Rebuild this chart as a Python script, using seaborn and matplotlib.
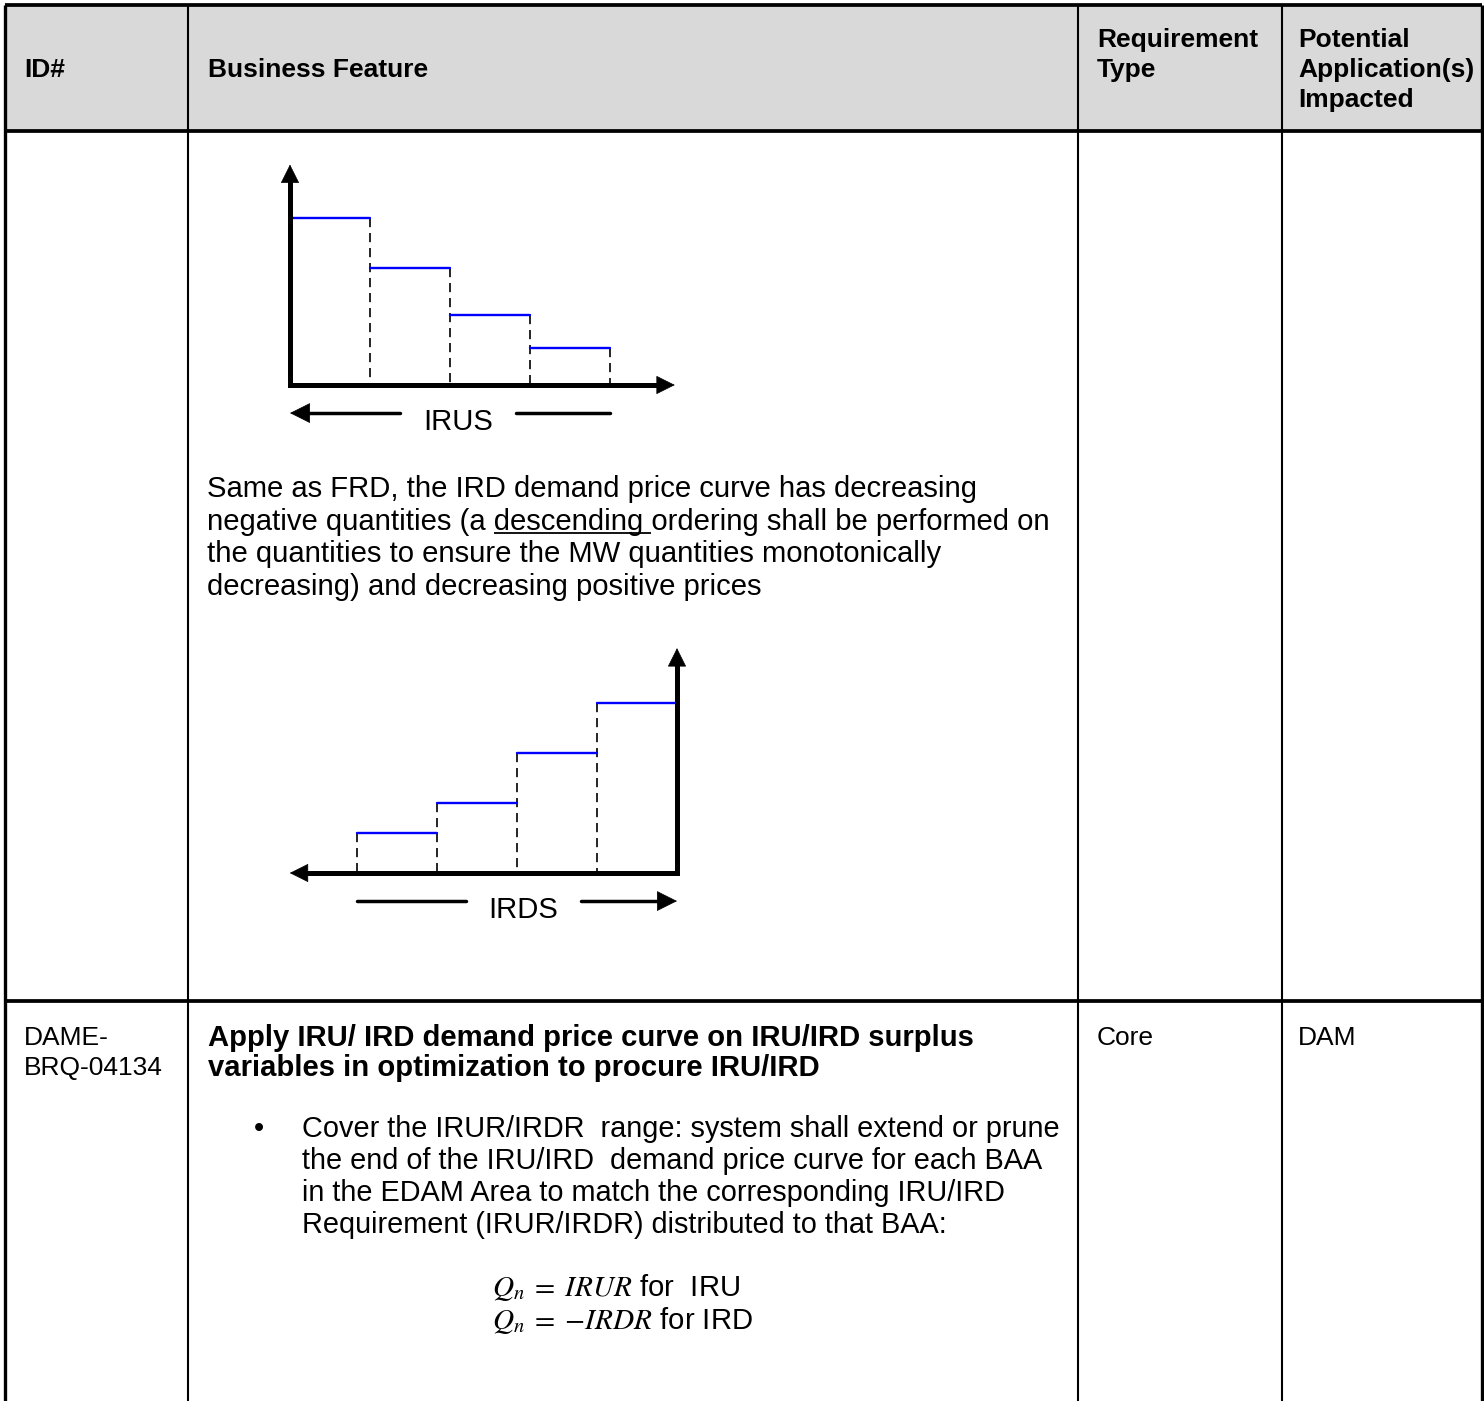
import matplotlib
matplotlib.use("Agg")
import matplotlib.pyplot as plt
from matplotlib.patches import Rectangle
import seaborn as sns
import pandas as pd

# IRU surplus demand curve (positive MW, decreasing price)
irus_qty = [0, 1, 2, 3, 4]
irus_price = [5.0, 3.5, 2.1, 1.1]
# IRD surplus demand curve (negative MW, increasing towards zero)
irds_qty = [-4, -3, -2, -1, 0]
irds_price = [1.2, 2.1, 3.6, 5.1]

# table text
header_id = ["ID#"]
header_feature = ["Business Feature"]
header_type = ["Requirement", "Type"]
header_apps = ["Potential", "Application(s)", "Impacted"]

para_lines = ["Same as FRD, the IRD demand price curve has decreasing",
              "negative quantities (a descending ordering shall be performed on",
              "the quantities to ensure the MW quantities monotonically",
              "decreasing) and decreasing positive prices"]

row2_id = ["DAME-", "BRQ-04134"]
row2_title = ["Apply IRU/ IRD demand price curve on IRU/IRD surplus",
              "variables in optimization to procure IRU/IRD"]
row2_bullet = ["Cover the IRUR/IRDR  range: system shall extend or prune",
               "the end of the IRU/IRD  demand price curve for each BAA",
               "in the EDAM Area to match the corresponding IRU/IRD",
               "Requirement (IRUR/IRDR) distributed to that BAA:"]
row2_formulas = [r"$Q_n\;=\;IRUR$ for  IRU", r"$Q_n\;=\;{-}IRDR$ for IRD"]
row2_type = "Core"
row2_apps = "DAM"

sns.set_theme(style="white")
plt.rcParams["font.family"] = ["Liberation Sans", "DejaVu Sans"]
plt.rcParams["mathtext.fontset"] = "stix"
plt.rcParams["text.color"] = "black"

W, H = 1484, 1401
FS_HEAD = 19.0   # header and narrow columns
FS_BODY = 21.1   # business feature column
fig = plt.figure(figsize=(W / 100, H / 100), dpi=100)
fig.patch.set_facecolor("white")

# background axes in pixel units for the table
ax = fig.add_axes([0, 0, 1, 1])
ax.set_xlim(0, W)
ax.set_ylim(H, 0)
ax.axis("off")

col_x = [5, 188, 1078, 1282, 1482]
head_bottom, row_sep = 131, 1001

ax.add_patch(Rectangle((col_x[0], 5), col_x[-1] - col_x[0], head_bottom - 5,
                       facecolor="#d9d9d9", edgecolor="none"))
for y in [5, head_bottom, row_sep]:
    ax.hlines(y, col_x[0], col_x[-1], color="black", lw=2.7)
for i, x in enumerate(col_x):
    ax.vlines(x, 5, H, color="black", lw=2.4 if i in (0, len(col_x) - 1) else 1.5)


def lines(x, base, txts, step, fs, **kw):
    out = []
    for k, t in enumerate(txts):
        out.append(ax.text(x, base + k * step, t, fontsize=fs, va="baseline", ha="left", **kw))
    return out


# header
lines(24, 77, header_id, 30, FS_HEAD, fontweight="bold")
lines(208, 77, header_feature, 30, FS_HEAD, fontweight="bold")
lines(1097, 47, header_type, 30, FS_HEAD, fontweight="bold")
lines(1298, 47, header_apps, 30, FS_HEAD, fontweight="bold")

# paragraph between the two charts
lines(207, 497, para_lines, 32.7, FS_BODY)

# underline "descending"
renderer = fig.canvas.get_renderer()
pre = ax.text(207, 0, "negative quantities (a ", fontsize=FS_BODY, alpha=0)
word = ax.text(207, 0, "negative quantities (a descending ", fontsize=FS_BODY, alpha=0)
x_start = 207 + pre.get_window_extent(renderer).width
x_end = 207 + word.get_window_extent(renderer).width
ax.hlines(497 + 32.7 + 3.5, x_start, x_end, color="black", lw=1.3)

# second row
lines(24, 1045, row2_id, 30, FS_HEAD)
lines(208, 1046, row2_title, 30, FS_BODY, fontweight="bold")
ax.text(1097, 1045, row2_type, fontsize=FS_HEAD, va="baseline")
ax.text(1298, 1045, row2_apps, fontsize=FS_HEAD, va="baseline")
ax.text(254, 1137, "\u2022", fontsize=FS_BODY, va="baseline")
lines(302, 1137, row2_bullet, 32, 20.8)
lines(492, 1296, row2_formulas, 33, FS_BODY)

# step charts
SX, SY = 80.0, 33.4


def inset(x0, y0, xlim, ylim):
    left = x0 + xlim[0] * SX
    right = x0 + xlim[1] * SX
    bottom = y0 - ylim[0] * SY
    top = y0 - ylim[1] * SY
    return fig.add_axes([left / W, (H - bottom) / H, (right - left) / W, (bottom - top) / H])


def head(a, tip, tail, ms):
    a.annotate("", xy=tip, xytext=tail,
               arrowprops=dict(arrowstyle="-|>", color="black", lw=0.5,
                               mutation_scale=ms, shrinkA=0, shrinkB=0))


def step_chart(a, qty, price, drop_left, xtip, label, label_center, left_arrow):
    n = len(price)
    steps = pd.DataFrame({
        "q": [v for i in range(n) for v in (qty[i], qty[i + 1])],
        "p": [price[i] for i in range(n) for _ in range(2)],
        "seg": [i for i in range(n) for _ in range(2)],
    })
    drop_q = qty[:-1] if drop_left else qty[1:]
    drops = pd.DataFrame({
        "q": [q for q in drop_q for _ in range(2)],
        "p": [v for p in price for v in (p, 0)],
        "seg": [i for i in range(n) for _ in range(2)],
    })
    sns.lineplot(data=drops, x="q", y="p", units="seg", estimator=None, sort=False,
                 color="black", lw=1.2, linestyle=(0, (5.5, 3.5)), ax=a, legend=False)
    sns.lineplot(data=steps, x="q", y="p", units="seg", estimator=None, sort=False,
                 color="#0000ff", lw=1.7, ax=a, legend=False)

    ytip = max(price) * 1.32
    hx, hy = 16 / SX, 16 / SY
    sgn = 1 if xtip > 0 else -1
    a.plot([0, xtip - sgn * hx * 0.8], [0, 0], color="black", lw=3.6, solid_capstyle="projecting")
    a.plot([0, 0], [0, ytip - hy * 0.8], color="black", lw=3.6, solid_capstyle="projecting")
    head(a, (xtip, 0), (xtip - sgn * 0.4, 0), 31)
    head(a, (0, ytip), (0, ytip - 1.0), 31)

    # quantity direction label below the axis
    ly = -0.84
    gap = 0.72
    lo, hi = qty[0], qty[-1]
    a.text(label_center, -1.34, label, fontsize=FS_BODY, ha="center", va="baseline")
    if left_arrow:
        a.plot([lo + 0.15, label_center - gap], [ly, ly], color="black", lw=2.5)
        head(a, (lo, ly), (lo + 0.4, ly), 34)
        a.plot([label_center + gap, hi], [ly, ly], color="black", lw=2.5)
    else:
        a.plot([lo, label_center - gap], [ly, ly], color="black", lw=2.5)
        a.plot([label_center + gap, hi - 0.15], [ly, ly], color="black", lw=2.5)
        head(a, (hi, ly), (hi - 0.4, ly), 34)


a1 = inset(290, 385, (-0.5, 5.3), (-1.8, 7.3))
step_chart(a1, irus_qty, irus_price, drop_left=False, xtip=irus_qty[-1] + 0.81,
           label="IRUS", label_center=(irus_qty[0] + irus_qty[-1]) / 2 + 0.1, left_arrow=True)
a1.set_xlim(-0.5, 5.3)
a1.set_ylim(-1.8, 7.3)
a1.axis("off")

a2 = inset(677, 873, (-5.3, 0.5), (-1.8, 7.3))
step_chart(a2, irds_qty, irds_price, drop_left=True, xtip=irds_qty[0] - 0.84,
           label="IRDS", label_center=(irds_qty[0] + irds_qty[-1]) / 2 + 0.08, left_arrow=False)
a2.set_xlim(-5.3, 0.5)
a2.set_ylim(-1.8, 7.3)
a2.axis("off")

fig.savefig("out.png", dpi=100)
